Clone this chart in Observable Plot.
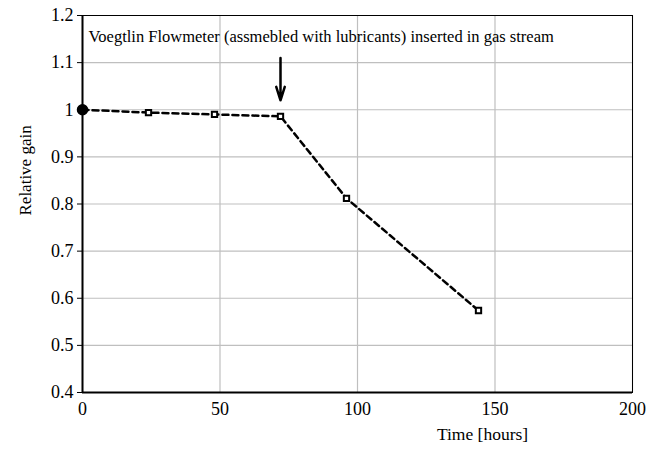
<!DOCTYPE html>
<html><head><meta charset="utf-8">
<script src="https://cdn.jsdelivr.net/npm/d3@7"></script>
<script src="https://cdn.jsdelivr.net/npm/@observablehq/plot@0.6"></script>
<style>body{margin:0;background:#fff;}</style>
</head><body><div id="chart"></div>
<script>
const hours = [0, 24, 48, 72, 96, 144];
const gain = [1.0, 0.994, 0.99, 0.986, 0.812, 0.574];
const xTicks = [0, 50, 100, 150, 200];
const yTicks = [0.4, 0.5, 0.6, 0.7, 0.8, 0.9, 1.0, 1.1, 1.2];
const annotation = ["Voegtlin Flowmeter (assmebled with lubricants) inserted in gas stream"];
const arrowX = [72];
const arrowTop = [1.11];
const arrowTip = [1.02];
const annX = [2.2];
const annY = [1.155];

const data = hours.map((h, i) => ({h, g: gain[i], first: i === 0}));
const serif = '"Liberation Serif","Times New Roman",serif';

const plot = Plot.plot({
  width: 649, height: 450,
  marginLeft: 82, marginRight: 17, marginTop: 15, marginBottom: 58,
  style: {fontFamily: serif, fontSize: "18px", background: "white"},
  x: {domain: [0, 200]},
  y: {domain: [0.4, 1.2]},
  marks: [
    Plot.gridX(xTicks, {stroke: "#bfbfbf", strokeOpacity: 1, strokeWidth: 1.2}),
    Plot.gridY(yTicks, {stroke: "#bfbfbf", strokeOpacity: 1, strokeWidth: 1.2}),
    Plot.frame({stroke: "#000", strokeWidth: 1}),
    Plot.ruleX([0], {stroke: "#000", strokeWidth: 2}),
    Plot.ruleY([0.4], {stroke: "#000", strokeWidth: 2}),
    Plot.axisX({ticks: xTicks, tickSize: 0, tickPadding: 10, label: null, fontSize: 18, fill: "#000"}),
    Plot.axisY({ticks: yTicks, tickSize: 5, tickPadding: 4, tickFormat: d3.format("~g"),
      label: null, fontSize: 18, fill: "#000"}),
    Plot.text(["Relative gain"], {frameAnchor: "top-left", dx: -64, dy: 200, rotate: -90, fontSize: 17, fill: "#000"}),
    Plot.text(["Time [hours]"], {frameAnchor: "bottom", dx: 125, dy: 47, fontSize: 17.5, fill: "#000"}),
    Plot.line(data, {x: "h", y: "g", stroke: "#000", strokeWidth: 2.5, strokeDasharray: "6,4"}),
    Plot.dot(data.filter(d => d.first), {x: "h", y: "g", r: 5, fill: "#000", stroke: "#000"}),
    Plot.dot(data.filter(d => !d.first), {x: "h", y: "g", symbol: "square", r: 3, fill: "#fff", stroke: "#000", strokeWidth: 2}),
    Plot.arrow(arrowX.map((x, i) => ({x, y1: arrowTop[i], y2: arrowTip[i]})),
      {x1: "x", x2: "x", y1: "y1", y2: "y2", stroke: "#000", strokeWidth: 2.5, headLength: 10, headAngle: 35}),
    Plot.text(annotation, {x: () => annX[0], y: () => annY[0], textAnchor: "start", fontSize: 16.5, fill: "#000"})
  ]
});
d3.select(plot).selectAll("text, g").style("font-family", serif);
d3.select(plot).style("font-family", serif);
document.getElementById("chart").appendChild(plot);
</script></body></html>
